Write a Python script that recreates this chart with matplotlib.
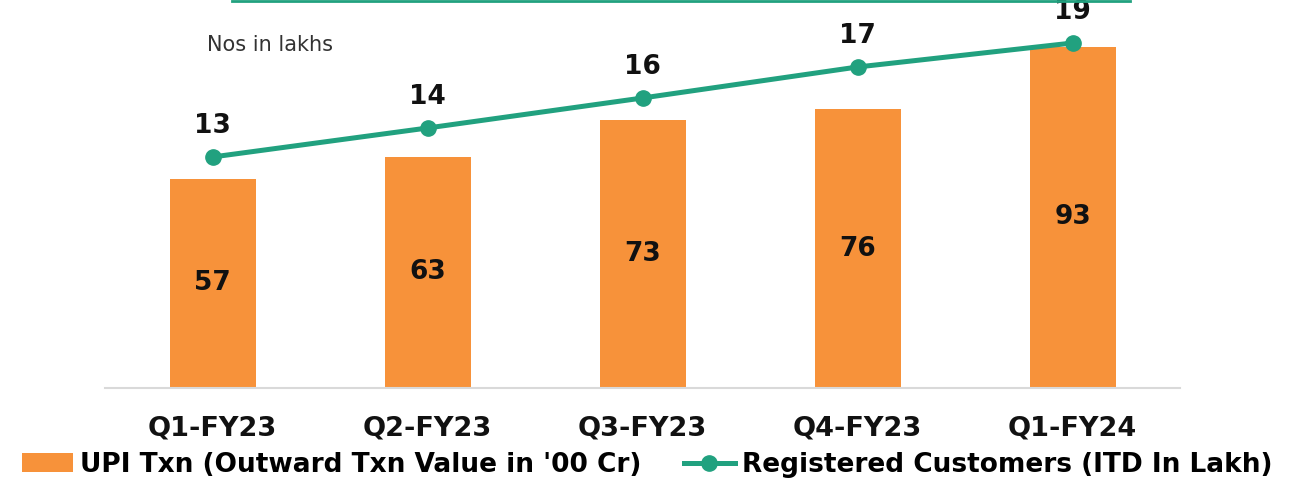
import numpy as np
import matplotlib.pyplot as plt
from matplotlib.lines import Line2D

quarters = ['Q1-FY23', 'Q2-FY23', 'Q3-FY23', 'Q4-FY23', 'Q1-FY24']
upi_txn = [57, 63, 73, 76, 93]
customers = [12.9, 14.35, 15.85, 17.4, 18.6]

ORANGE = '#F7923A'
TEAL = '#21A17F'


def main():
    plt.rcParams['font.family'] = ['DejaVu Sans']
    fig = plt.figure(figsize=(12.96, 4.83), dpi=100)
    ax1 = fig.add_axes([105 / 1296, 95 / 483, 1075 / 1296, 388 / 483])
    ax2 = ax1.twinx()

    x = np.arange(len(quarters))
    bars = ax1.bar(x, upi_txn, width=0.4, color=ORANGE,
                   label="UPI Txn (Outward Txn Value in '00 Cr)")
    for b, v in zip(bars, upi_txn):
        ax1.text(b.get_x() + b.get_width() / 2, v / 2, f'{v}', ha='center',
                 va='center', fontsize=19, fontweight='bold', color='#111111')

    line, = ax2.plot(x, customers, color=TEAL, lw=3.6, marker='o', ms=11,
                     label='Registered Customers (ITD In Lakh)')
    for xi, v in zip(x, customers):
        ax2.annotate(f'{v:.0f}', (xi, v), xytext=(0, 13), textcoords='offset points',
                     ha='center', va='bottom', fontsize=19, fontweight='bold',
                     color='#111111')

    ax1.set_xlim(-0.5, 4.5)
    ax1.set_ylim(0, 105.8)
    ax2.set_ylim(1.35, 20.75)

    for ax in (ax1, ax2):
        for s in ax.spines.values():
            s.set_visible(False)
        ax.set_yticks([])
    ax1.spines['bottom'].set_visible(True)
    ax1.spines['bottom'].set_color('#D9D9D9')
    ax1.spines['bottom'].set_linewidth(1.5)

    ax1.set_xticks(x)
    ax1.set_xticklabels(quarters, fontsize=19.5, fontweight='bold', color='#111111')
    ax1.tick_params(axis='x', length=0, pad=20)

    fig.text(207 / 1296, 1 - 45 / 483, 'Nos in lakhs', fontsize=15, color='#333333',
             ha='left', va='center')

    # green border peeking in at the top
    fig.add_artist(Line2D([232 / 1296, 1130 / 1296], [0.998, 0.998], color=TEAL, lw=2,
                          transform=fig.transFigure))

    fig.legend(handles=[bars, line], loc='center left', bbox_to_anchor=(22 / 1296, 18 / 483),
               ncol=2, frameon=False, borderpad=0, borderaxespad=0,
               handlelength=1.93, handleheight=0.75, handletextpad=0.27,
               columnspacing=1.6, prop={'size': 19, 'weight': 'bold'})

    plt.savefig('out.png', dpi=100)


if __name__ == "__main__":
    main()
